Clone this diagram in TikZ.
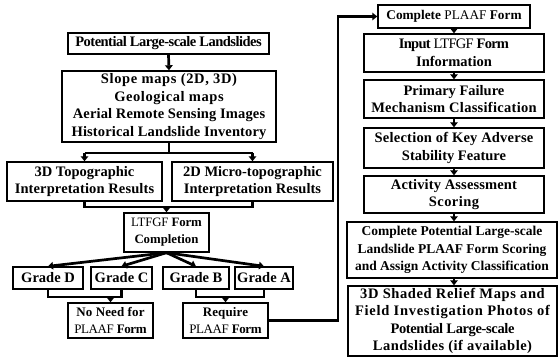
\documentclass[tikz,border=0pt]{standalone}
\usepackage{fontspec}
\setmainfont{Liberation Serif}
\usetikzlibrary{arrows.meta}
\newcommand\ls[2]{{\addfontfeature{LetterSpace=#1}#2}}
\newcommand\rg[1]{{\mdseries #1}}
\begin{document}
\begin{tikzpicture}[x=1pt,y=-1pt,
 box/.style={draw,line width=1.4pt,align=center,inner sep=0pt,font=\fontsize{14.5}{17.6}\selectfont\bfseries},
 small/.style={font=\fontsize{13}{17}\selectfont\bfseries},
 conn/.style={line width=2.7pt},
 arr/.style={conn,-{Triangle[length=5pt,width=7.5pt]}}]
\useasboundingbox (0,0) rectangle (558,358);
% left column
\node[box,minimum width=201pt,minimum height=21pt] (pls) at (168.5,43.5) {\ls{-3.6}{Potential Large-scale Landslides}};
\node[box,minimum width=214pt,minimum height=71pt] (data) at (169,106.5) {\ls{4.4}{Slope maps (2D, 3D)}\\\ls{4}{Geological maps}\\\ls{1}{Aerial Remote Sensing Images}\\\ls{1}{Historical Landslide Inventory}};
\node[box,minimum width=155pt,minimum height=39pt] (t3d) at (84.5,181.5) {3D Topographic\\\ls{0.8}{Interpretation Results}};
\node[box,minimum width=161pt,minimum height=39pt] (t2d) at (252.5,181.5) {2D Micro-topographic\\Interpretation Results};
\node[box,minimum width=85pt,minimum height=39pt,font=\fontsize{12.8}{17}\selectfont\bfseries] (ltfgf) at (166.5,232.5) {\ls{-1}{\rg{LTFGF} Form}\\Completion};
\node[box,minimum width=70pt,minimum height=22pt] (gD) at (48,278) {Grade D};
\node[box,minimum width=61pt,minimum height=22pt] (gC) at (121.5,278) {Grade C};
\node[box,minimum width=66pt,minimum height=22pt] (gB) at (196,278) {Grade B};
\node[box,minimum width=58pt,minimum height=22pt] (gA) at (264,278) {Grade A};
\node[box,small,minimum width=85pt,minimum height=35pt] (noneed) at (110.5,320.5) {\ls{1}{No Need for}\\\ls{-3}{\rg{PLAAF} Form}};
\node[box,small,minimum width=85pt,minimum height=35pt] (req) at (225.5,320.5) {\ls{1}{Require}\\\ls{-3}{\rg{PLAAF} Form}};
% right column
\node[box,minimum width=152pt,minimum height=23pt,font=\fontsize{13.3}{17}\selectfont\bfseries] (cplaaf) at (454,16.5) {Complete \rg{PLAAF} Form};
\node[box,minimum width=180pt,minimum height=38pt] (input) at (454,53) {\ls{-5}{Input \rg{LTFGF} Form}\\Information};
\node[box,minimum width=180pt,minimum height=38pt] (prim) at (454,99) {Primary Failure\\\ls{2}{Mechanism Classification}};
\node[box,minimum width=180pt,minimum height=40pt] (sel) at (454,148) {\ls{1.5}{Selection of Key Adverse}\\Stability Feature};
\node[box,minimum width=180pt,minimum height=37pt] (act) at (454,194.5) {\ls{1}{Activity Assessment}\\\ls{3}{Scoring}};
\node[box,minimum width=210pt,minimum height=56pt,font=\fontsize{13.5}{17.8}\selectfont\bfseries] (cpot) at (452,250) {Complete Potential Large-scale\\Landslide PLAAF Form Scoring\\and Assign Activity Classification};
\node[box,minimum width=209pt,minimum height=70pt] (shade) at (452.5,321) {\ls{4.2}{3D Shaded Relief Maps and}\\\ls{5}{Field Investigation Photos of}\\\ls{-2.5}{Potential Large-scale}\\\ls{3.4}{Landslides (if available)}};
% helper coordinates
\coordinate (s1) at (0,153);
\coordinate (m1) at (0,207);
\coordinate (m2) at (0,297);
\coordinate (loop) at (338,0);
% connectors
\draw[arr] (pls.south) -- (data.north);
\draw[conn] (data.south) -- (data.south |- s1);
\draw[conn] (t3d.north |- s1) -- (t2d.north |- s1);
\draw[arr] (t3d.north |- s1) -- (t3d.north);
\draw[arr] (t2d.north |- s1) -- (t2d.north);
\draw[conn] (t3d.south) -- (t3d.south |- m1) -- (t2d.south |- m1) -- (t2d.south);
\draw[arr] (ltfgf.north |- m1) -- (ltfgf.north);
\foreach \g in {gD,gC,gB,gA}{\draw[arr] (ltfgf.south) -- (\g.north);}
\draw[conn] (gD.south) -- (gD.south |- m2) -- (gC.south |- m2) -- (gC.south);
\draw[arr] (noneed.north |- m2) -- (noneed.north);
\draw[conn] (gB.south) -- (gB.south |- m2) -- (gA.south |- m2) -- (gA.south);
\draw[arr] (req.north |- m2) -- (req.north);
\draw[arr] (req.east) -- (req.east -| loop) -- (loop |- cplaaf.west) -- (cplaaf.west);
\draw[arr] (cplaaf.south) -- (input.north);
\draw[arr] (input.south) -- (prim.north);
\draw[arr] (prim.south) -- (sel.north);
\draw[arr] (sel.south) -- (act.north);
\draw[arr] (act.south) -- (act.south |- cpot.north);
\draw[arr] (act.south |- cpot.south) -- (act.south |- shade.north);
\end{tikzpicture}
\end{document}
